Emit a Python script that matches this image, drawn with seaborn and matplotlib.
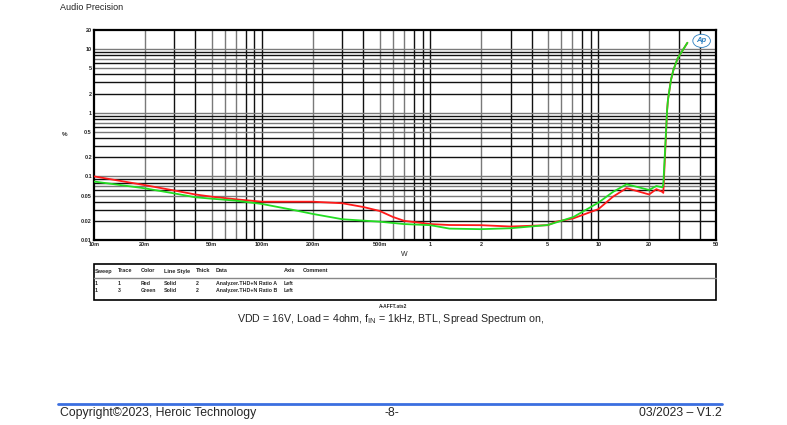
import numpy as np
import pandas as pd
import matplotlib
matplotlib.use("Agg")
import matplotlib.pyplot as plt
import seaborn as sns
from matplotlib.patches import Rectangle
from matplotlib.lines import Line2D

sns.set_theme(style="white")
plt.rcParams['font.family'] = ['Liberation Sans', 'DejaVu Sans']
plt.rcParams['mathtext.fontset'] = 'custom'
plt.rcParams['mathtext.rm'] = 'Liberation Sans'
plt.rcParams['mathtext.it'] = 'Liberation Sans'

# ---- data (W vs THD+N %) ----
red_x = [0.01, 0.02, 0.03, 0.04, 0.05, 0.07, 0.1, 0.2, 0.3, 0.4, 0.5, 0.6, 0.7,
         1.0, 1.3, 2.0, 3.0, 5.0, 5.6, 7.1, 10, 12.2, 14.7, 20, 22.1, 24.0, 24.3,
         25.6, 25.9, 27.0, 27.9, 29.6, 33.8]
red_y = [0.100, 0.073, 0.060, 0.052, 0.048, 0.0436, 0.040, 0.040, 0.0378, 0.033,
         0.0286, 0.023, 0.020, 0.0178, 0.0172, 0.0171, 0.0163, 0.0171, 0.0194,
         0.0219, 0.0306, 0.048, 0.0654, 0.052, 0.063, 0.057, 0.055,
         1.1, 1.6, 3.3, 4.7, 7.2, 12.6]
green_x = [0.01, 0.02, 0.03, 0.04, 0.05, 0.07, 0.1, 0.15, 0.2, 0.3, 0.5, 0.7,
           1.0, 1.3, 2.0, 3.0, 5.0, 7.1, 10, 12.2, 14.7, 20, 22.1, 24.0, 24.3,
           25.6, 25.9, 27.0, 27.9, 29.6, 33.8]
green_y = [0.083, 0.065, 0.054, 0.047, 0.0446, 0.0415, 0.0368, 0.030, 0.0257,
           0.0212, 0.0194, 0.0178, 0.0171, 0.0151, 0.0148, 0.0153, 0.0172, 0.023,
           0.0387, 0.057, 0.0752, 0.0612, 0.0706, 0.0673, 0.075,
           1.1, 1.6, 3.3, 4.7, 7.2, 12.6]

x_ticks = [0.01, 0.02, 0.05, 0.1, 0.2, 0.5, 1, 2, 5, 10, 20, 50]
x_labels = ["10m", "20m", "50m", "100m", "200m", "500m", "1", "2", "5", "10", "20", "50"]
y_ticks = [0.01, 0.02, 0.05, 0.1, 0.2, 0.5, 1, 2, 5, 10, 20]
y_labels = ["0.01", "0.02", "0.05", "0.1", "0.2", "0.5", "1", "2", "5", "10", "20"]

table_header = ["Sweep", "Trace", "Color", "Line Style", "Thick", "Data", "Axis", "Comment"]
table_rows = [["1", "1", "Red", "Solid", "2", "Analyzer.THD+N Ratio A", "Left", ""],
              ["1", "3", "Green", "Solid", "2", "Analyzer.THD+N Ratio B", "Left", ""]]

df = pd.concat([
    pd.DataFrame({"W": red_x, "pct": red_y, "trace": "A"}),
    pd.DataFrame({"W": green_x, "pct": green_y, "trace": "B"}),
])

W, H = 787, 425
fig = plt.figure(figsize=(W / 100, H / 100), dpi=100)
fig.patch.set_facecolor("white")

def fx(px):
    return px / W

def fy(py):
    return 1 - py / H

ax = fig.add_axes([fx(94), fy(240), fx(716) - fx(94), fy(30) - fy(240)])
ax.set_xscale("log")
ax.set_yscale("log")
ax.set_xlim(0.01, 50)
ax.set_ylim(0.01, 20)

# grid lines
gray = "#7a7a7a"
for dec in [0.01, 0.1, 1, 10]:
    for m in range(1, 10):
        v = dec * m
        if 0.01 < v < 50:
            c = gray if m in (2, 5, 6, 7) else "#111111"
            ax.axvline(v, color=c, lw=1.0, zorder=1)
for dec in [0.01, 0.1, 1, 10]:
    for m in range(1, 10):
        v = dec * m
        if 0.01 < v < 20:
            c = gray if m in (1, 5, 7) else "#111111"
            ax.axhline(v, color=c, lw=1.0, zorder=1)

sns.lineplot(data=df, x="W", y="pct", hue="trace", palette={"A": "#ff1a1a", "B": "#22dd22"},
             ax=ax, legend=False, lw=1.3, sort=False, estimator=None, zorder=3)

ax.set_xticks(x_ticks)
ax.set_xticklabels(x_labels)
ax.set_yticks(y_ticks)
ax.set_yticklabels(y_labels)
ax.minorticks_off()
ax.tick_params(axis="both", length=0, labelsize=4, pad=1.5)
for t in ax.get_xticklabels() + ax.get_yticklabels():
    t.set_fontweight("bold")
ax.set_xlabel("")
ax.set_ylabel("")
for s in ax.spines.values():
    s.set_color("black")
    s.set_linewidth(1.6)
    s.set_visible(True)

# Ap logo
ax.text(0.985, 0.965, "Ap", transform=ax.transAxes, ha="right", va="top", fontsize=5.5,
        color="#2a7fc0", style="italic", fontweight="bold",
        bbox=dict(boxstyle="ellipse,pad=0.15", fc="white", ec="#2a7fc0", lw=0.6), zorder=5)

fig.text(fx(60), fy(8), "Audio Precision", fontsize=6.5, ha="left", va="center", color="#222")
fig.text(fx(65), fy(134), "%", fontsize=4.5, fontweight="bold", ha="center", va="center")
fig.text(fx(404), fy(254), "W", fontsize=5, ha="center", va="center")

# table box
tb = fig.add_axes([0, 0, 1, 1], facecolor="none")
tb.set_xlim(0, W)
tb.set_ylim(H, 0)
tb.axis("off")
tb.add_patch(Rectangle((94, 264), 622, 36, fill=False, ec="black", lw=1.2))
tb.add_line(Line2D([94, 716], [278, 278], color="#888", lw=1.0))
col_x = [95, 118, 141, 164, 196, 216, 284, 303]
for cx, h in zip(col_x, table_header):
    tb.text(cx, 271, h, fontsize=4.0, fontweight="bold", ha="left", va="center")
for ry, row in zip([283.5, 290.5], table_rows):
    for cx, c in zip(col_x, row):
        tb.text(cx, ry, c, fontsize=3.8, fontweight="bold", ha="left", va="center")
tb.text(393, 306, "A-AFFT.ats2", fontsize=3.5, fontweight="bold", ha="center", va="center")

tb.text(391, 319, r"VDD = 16V, Load = 4ohm, f$_{\mathrm{IN}}$ = 1kHz, BTL, Spread Spectrum on,",
        fontsize=7.7, ha="center", va="center")

# footer
tb.add_line(Line2D([58, 722], [403.5, 403.5], color="#3b6fe0", lw=2.0))
tb.text(60, 413, "Copyright\u00a92023, Heroic Technology", fontsize=8.8, ha="left", va="center")
tb.text(392, 413, "-8-", fontsize=8.8, ha="center", va="center")
tb.text(722, 413, "03/2023 \u2013 V1.2", fontsize=8.8, ha="right", va="center")

fig.savefig("out.png", dpi=100, facecolor="white")
